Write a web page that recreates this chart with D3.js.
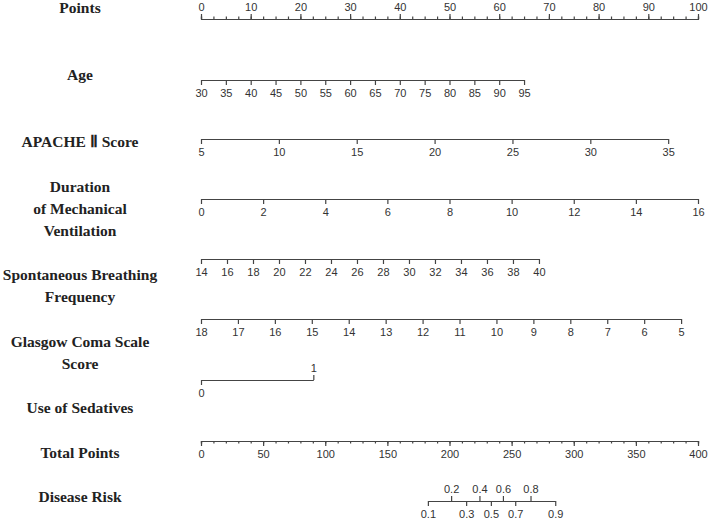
<!DOCTYPE html>
<html>
<head>
<meta charset="utf-8">
<script src="https://d3js.org/d3.v7.min.js"></script>
<style>
  body {margin:0; background:#fff;}
  .axis path, .axis line {stroke:#444; stroke-width:1.2;}
  .axis text {font-family:"Liberation Sans", Arial, sans-serif; font-size:11px; fill:#333;}
  .title {font-family:"Liberation Serif", "Times New Roman", serif; font-weight:bold; font-size:15.5px; fill:#222;}
</style>
</head>
<body>
<svg width="709" height="520"></svg>
<script>
// points axis
const pointTicks = [0, 10, 20, 30, 40, 50, 60, 70, 80, 90, 100];

// predictor ticks and the points they reach at the top end
const ageTicks = [30, 35, 40, 45, 50, 55, 60, 65, 70, 75, 80, 85, 90, 95];
const agePoints = [0, 65];
const apacheTicks = [5, 10, 15, 20, 25, 30, 35];
const apachePoints = [0, 94];
const durationTicks = [0, 2, 4, 6, 8, 10, 12, 14, 16];
const durationPoints = [0, 100];
const breathTicks = [14, 16, 18, 20, 22, 24, 26, 28, 30, 32, 34, 36, 38, 40];
const breathPoints = [0, 68];
const gcsTicks = [18, 17, 16, 15, 14, 13, 12, 11, 10, 9, 8, 7, 6, 5];
const gcsPoints = [0, 96.6];
const sedativeTicks = [0, 1];
const sedativePoints = [0, 22.6];

// total points and risk
const totalTicks = [0, 50, 100, 150, 200, 250, 300, 350, 400];
const riskTicks = [0.1, 0.2, 0.3, 0.4, 0.5, 0.6, 0.7, 0.8, 0.9];
const riskTotalPoints = [182.6, 201.3, 213.4, 224.1, 233.3, 243.0, 252.9, 265.2, 285.1];

const svg = d3.select("svg");
const x0 = 201, x1 = 698;
const xPts = d3.scaleLinear().domain([0, 100]).range([x0, x1]);
const xTot = d3.scaleLinear().domain([0, 400]).range([x0, x1]);

function title(lines, y) {
  const t = svg.append("text").attr("class", "title")
      .attr("text-anchor", "middle").attr("x", 80).attr("y", y);
  lines.forEach((s, i) => t.append("tspan").attr("x", 80).attr("dy", i ? 22 : 0).text(s));
}

// Points
svg.append("g").attr("class", "axis")
    .attr("transform", "translate(0,19)")
    .call(d3.axisTop(xPts).tickValues(d3.range(0, 100.1, 2.5)).tickSize(2.5).tickFormat(""));
svg.append("g").attr("class", "axis")
    .attr("transform", "translate(0,19)")
    .call(d3.axisTop(xPts).tickValues(pointTicks).tickSize(5).tickSizeOuter(0).tickPadding(3))
    .call(g => g.select(".domain").remove());
title(["Points"], 13);

// simple predictor rows
const rows = [
  {lines: ["Age"], ticks: ageTicks, pts: agePoints, y: 80, ty: 80},
  {lines: ["APACHE \u2161 Score"], ticks: apacheTicks, pts: apachePoints, y: 139, ty: 147},
  {lines: ["Duration", "of Mechanical", "Ventilation"], ticks: durationTicks, pts: durationPoints, y: 199, ty: 192},
  {lines: ["Spontaneous Breathing", "Frequency"], ticks: breathTicks, pts: breathPoints, y: 259, ty: 280},
  {lines: ["Glasgow Coma Scale", "Score"], ticks: gcsTicks, pts: gcsPoints, y: 319, ty: 347}
];

rows.forEach(r => {
  const sc = d3.scaleLinear()
      .domain([r.ticks[0], r.ticks[r.ticks.length - 1]])
      .range([xPts(r.pts[0]), xPts(r.pts[1])]);
  svg.append("g").attr("class", "axis")
      .attr("transform", `translate(0,${r.y})`)
      .call(d3.axisBottom(sc).tickValues(r.ticks).tickSize(5).tickSizeOuter(0).tickPadding(4).tickFormat(d3.format("")));
  title(r.lines, r.ty);
});

// Use of Sedatives: labels alternate
const xSed = d3.scaleLinear().domain(sedativeTicks).range(sedativePoints.map(xPts));
svg.append("g").attr("class", "axis")
    .attr("transform", "translate(0,380)")
    .call(d3.axisBottom(xSed).tickValues([0]).tickSize(5).tickSizeOuter(0).tickPadding(4).tickFormat(d3.format("d")));
svg.append("g").attr("class", "axis")
    .attr("transform", "translate(0,380)")
    .call(d3.axisTop(xSed).tickValues([1]).tickSize(5).tickSizeOuter(0).tickPadding(3).tickFormat(d3.format("d")))
    .call(g => g.select(".domain").remove());
title(["Use of Sedatives"], 413);

// Total Points
svg.append("g").attr("class", "axis")
    .attr("transform", "translate(0,441)")
    .call(d3.axisBottom(xTot).tickValues(d3.range(0, 401, 10)).tickSize(2.5).tickFormat(""));
svg.append("g").attr("class", "axis")
    .attr("transform", "translate(0,441)")
    .call(d3.axisBottom(xTot).tickValues(totalTicks).tickSize(5).tickSizeOuter(0).tickPadding(4))
    .call(g => g.select(".domain").remove());
title(["Total Points"], 458);

// Disease Risk
const xRisk = d3.scaleLinear().domain(riskTicks).range(riskTotalPoints.map(xTot));
svg.append("g").attr("class", "axis")
    .attr("transform", "translate(0,501)")
    .call(d3.axisBottom(xRisk).tickValues(riskTicks.filter((d, i) => i % 2 === 0))
      .tickSize(5).tickSizeOuter(0).tickPadding(4));
svg.append("g").attr("class", "axis")
    .attr("transform", "translate(0,501)")
    .call(d3.axisTop(xRisk).tickValues(riskTicks.filter((d, i) => i % 2 === 1))
      .tickSize(5).tickSizeOuter(0).tickPadding(3))
    .call(g => g.select(".domain").remove());
title(["Disease Risk"], 502);
</script>
</body>
</html>
